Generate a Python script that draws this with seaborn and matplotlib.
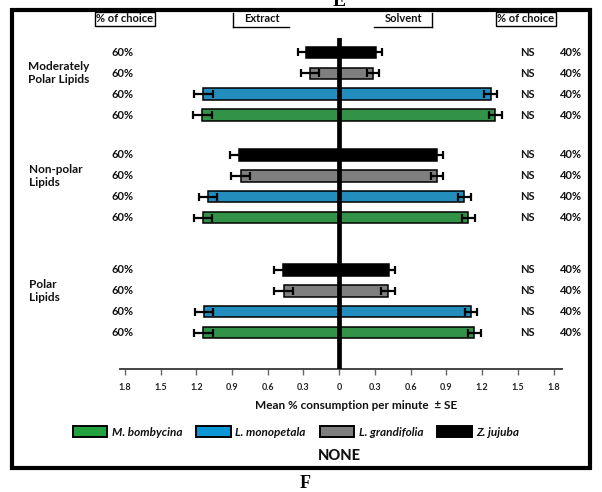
import numpy as np
import pandas as pd
import matplotlib
matplotlib.use("Agg")
import matplotlib.pyplot as plt
import matplotlib.patches as mpatches
from matplotlib.lines import Line2D
from matplotlib import transforms
import seaborn as sns

# ---- data -------------------------------------------------------------
groups = ["Moderately\nPolar Lipids", "Non-polar\nLipids", "Polar\nLipids"]
species = ["Z. jujuba", "L. grandifolia", "L. monopetala", "M. bombycina"]
legend_order = ["M. bombycina", "L. monopetala", "L. grandifolia", "Z. jujuba"]
species_colors = ["#000000", "#7f7f7f", "#0a96d6", "#22a23f"]

# mean % consumption per minute (one row per lipid class, species order above)
extract_mean = [[0.28, 0.245, 1.14, 1.15],
                [0.84, 0.825, 1.10, 1.14],
                [0.47, 0.465, 1.135, 1.14]]
extract_se = [[0.07, 0.075, 0.077, 0.08],
              [0.08, 0.08, 0.077, 0.076],
              [0.08, 0.08, 0.078, 0.08]]
solvent_mean = [[0.31, 0.28, 1.27, 1.31],
                [0.82, 0.82, 1.05, 1.085],
                [0.415, 0.41, 1.11, 1.135]]
solvent_se = [[0.045, 0.05, 0.053, 0.053],
              [0.048, 0.05, 0.055, 0.053],
              [0.05, 0.056, 0.05, 0.055]]

extract_choice = "60%"
solvent_choice = "40%"
significance = "NS"

tick_values = [-1.8, -1.5, -1.2, -0.9, -0.6, -0.3, 0, 0.3, 0.6, 0.9, 1.2, 1.5, 1.8]
tick_labels = ["1.8", "1.5", "1.2", "0.9", "0.6", "0.3", "0",
               "0.3", "0.6", "0.9", "1.2", "1.5", "1.8"]

# vertical layout: start slot of each lipid class block
group_start = [0, 4.9, 10.4]

# ---- long table -------------------------------------------------------
rows = []
for g, grp in enumerate(groups):
    for s, sp in enumerate(species):
        pos = group_start[g] + s
        rows.append(dict(group=grp, species=sp, pos=pos, side="Extract",
                         value=-extract_mean[g][s], se=extract_se[g][s]))
        rows.append(dict(group=grp, species=sp, pos=pos, side="Solvent",
                         value=solvent_mean[g][s], se=solvent_se[g][s]))
df = pd.DataFrame(rows)
palette = dict(zip(species, species_colors))

# ---- figure -----------------------------------------------------------
plt.rcParams["font.family"] = ["Lato", "DejaVu Sans"]
W, H = 602, 492
fig = plt.figure(figsize=(W / 100, H / 100), dpi=100)
fig.patch.set_facecolor("white")

def fx(px):
    return px / W

def fy(py):
    return (H - py) / H

ax = fig.add_axes([fx(120), fy(369), fx(562) - fx(120), fy(38) - fy(369)])

for side in ["Extract", "Solvent"]:
    sub = df[df["side"] == side]
    sns.barplot(data=sub, x="value", y="pos", hue="species", palette=palette,
                orient="h", native_scale=True, dodge=False, width=0.55,
                errorbar=None, edgecolor="black", linewidth=1.1,
                legend=False, ax=ax, zorder=3)
    ax.errorbar(sub["value"], sub["pos"], xerr=sub["se"], fmt="none",
                ecolor="black", elinewidth=1.6, capsize=2.6, capthick=1.6,
                zorder=4)

ax.axvline(0, color="black", lw=3.4, zorder=6)
ax.set_xlim(-1.84, 1.87)
ax.set_ylim(15.14, -0.69)

for sp in ["top", "left", "right"]:
    ax.spines[sp].set_visible(False)
ax.spines["bottom"].set_color("#444444")
ax.spines["bottom"].set_linewidth(1.4)
ax.set_yticks([])
ax.set_ylabel("")
ax.set_xticks(tick_values, tick_labels)
ax.tick_params(axis="x", length=4, width=1, color="#666666",
               labelsize=6.5, pad=6, labelcolor="#222222")
for lab in ax.get_xticklabels():
    lab.set_fontweight("bold")
ax.set_xlabel("Mean % consumption per minute  \u00b1 SE", fontsize=8.5,
              fontweight="bold", color="#111111")
ax.xaxis.set_label_coords((356 - 120) / (562 - 120), -0.095)
ax.set_facecolor("white")

# row annotations: choice percentages and significance
row_tr = transforms.blended_transform_factory(fig.transFigure, ax.transData)
for pos in df["pos"].unique():
    ax.text(fx(123), pos, extract_choice, transform=row_tr, ha="center",
            va="center", fontsize=8, fontweight="bold", color="#111111")
    ax.text(fx(527), pos, significance, transform=row_tr, ha="center",
            va="center", fontsize=8, fontweight="bold", color="#111111")
    ax.text(fx(571), pos, solvent_choice, transform=row_tr, ha="center",
            va="center", fontsize=8, fontweight="bold", color="#111111")

# lipid class labels
label_x = [(fx(59), "center"), (fx(29), "left"), (fx(29), "left")]
for g, grp in enumerate(groups):
    x, ha = label_x[g]
    ax.text(x, group_start[g] + 1.0, grp, transform=row_tr, ha=ha,
            va="center", multialignment=ha, fontsize=8.5,
            fontweight="bold", color="#111111", linespacing=1.25)

# column headers
hdr = dict(fontsize=8, fontweight="bold", color="#111111", va="center",
           ha="center", transform=fig.transFigure)
box = dict(boxstyle="square,pad=0.15", fc="white", ec="black", lw=1)
fig.text(fx(125), fy(19), "% of choice", bbox=box, **hdr)
fig.text(fx(526), fy(19), "% of choice", bbox=box, **hdr)
fig.text(fx(262), fy(19), "Extract", **hdr)
fig.text(fx(404), fy(19), "Solvent", **hdr)
for (x0, x1, xv) in [(233, 289, 233), (374, 432, 432)]:
    fig.add_artist(Line2D([fx(x0), fx(x1)], [fy(27), fy(27)], color="black",
                          lw=1, transform=fig.transFigure))
    fig.add_artist(Line2D([fx(xv), fx(xv)], [fy(13), fy(27)], color="black",
                          lw=1, transform=fig.transFigure))

# legend
handles = [mpatches.Patch(facecolor=palette[s], edgecolor="black", lw=1.4)
           for s in legend_order]
fig.legend(handles, legend_order, loc="center", ncol=4, frameon=False,
           bbox_to_anchor=(fx(296), fy(432)),
           prop=dict(family=["Lato", "DejaVu Sans"], style="italic",
                     weight="bold", size=8.5),
           handlelength=2.9, handleheight=1.0, handletextpad=0.4,
           columnspacing=1.2, labelcolor="#111111")

fig.text(fx(339), fy(456), "NONE", fontsize=10.5, fontweight="black",
         ha="center", va="center", color="#111111")

# outer frame
fig.add_artist(mpatches.Rectangle((fx(12), fy(468)), fx(590) - fx(12),
                                  fy(10) - fy(468), fill=False, ec="black",
                                  lw=3, transform=fig.transFigure))

# panel letters
serif = ["Liberation Serif", "DejaVu Serif"]
fig.text(fx(339), fy(1), "E", family=serif, fontsize=14, fontweight="bold",
         ha="center", va="center")
fig.text(fx(305), fy(483), "F", family=serif, fontsize=13, fontweight="bold",
         ha="center", va="center")

fig.savefig("out.png", dpi=100, facecolor="white")
